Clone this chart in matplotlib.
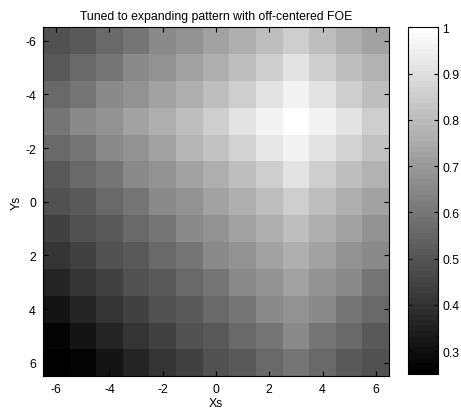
import numpy as np
import matplotlib
matplotlib.use("Agg")
import matplotlib.pyplot as plt

plt.rcParams.update({
    "font.family": "Liberation Sans", "font.size": 8.8,
    "axes.linewidth": 0.8, "axes.unicode_minus": False,
    "xtick.direction": "in", "ytick.direction": "in",
    "xtick.major.size": 3.5, "ytick.major.size": 3.5,
})

xs = [-6, -5, -4, -3, -2, -1, 0, 1, 2, 3, 4, 5, 6]
ys = [-6, -5, -4, -3, -2, -1, 0, 1, 2, 3, 4, 5, 6]

# response per (Ys row, Xs column)
resp = [
    [0.49, 0.51, 0.56, 0.60, 0.65, 0.68, 0.73, 0.76, 0.81, 0.85, 0.81, 0.76, 0.73],
    [0.51, 0.56, 0.60, 0.65, 0.68, 0.72, 0.76, 0.81, 0.85, 0.91, 0.85, 0.81, 0.77],
    [0.56, 0.60, 0.65, 0.68, 0.72, 0.76, 0.81, 0.85, 0.91, 0.96, 0.91, 0.85, 0.81],
    [0.60, 0.65, 0.68, 0.72, 0.76, 0.81, 0.85, 0.91, 0.96, 1.00, 0.96, 0.91, 0.85],
    [0.56, 0.60, 0.65, 0.68, 0.73, 0.78, 0.82, 0.87, 0.92, 0.96, 0.91, 0.87, 0.82],
    [0.51, 0.56, 0.60, 0.65, 0.68, 0.72, 0.76, 0.81, 0.85, 0.91, 0.85, 0.81, 0.77],
    [0.49, 0.51, 0.56, 0.60, 0.65, 0.68, 0.72, 0.76, 0.81, 0.85, 0.81, 0.76, 0.73],
    [0.44, 0.49, 0.51, 0.56, 0.60, 0.65, 0.68, 0.72, 0.76, 0.81, 0.76, 0.72, 0.68],
    [0.41, 0.44, 0.49, 0.51, 0.56, 0.60, 0.65, 0.68, 0.72, 0.76, 0.72, 0.68, 0.65],
    [0.36, 0.41, 0.44, 0.49, 0.51, 0.56, 0.60, 0.65, 0.68, 0.72, 0.68, 0.65, 0.60],
    [0.32, 0.36, 0.41, 0.44, 0.49, 0.51, 0.56, 0.60, 0.65, 0.68, 0.65, 0.60, 0.56],
    [0.265, 0.32, 0.36, 0.41, 0.44, 0.49, 0.51, 0.56, 0.60, 0.65, 0.60, 0.56, 0.51],
    [0.25, 0.265, 0.32, 0.36, 0.41, 0.44, 0.49, 0.51, 0.56, 0.60, 0.56, 0.51, 0.49],
]

ticks = [-6, -4, -2, 0, 2, 4, 6]
cbar_ticks = [0.3, 0.4, 0.5, 0.6, 0.7, 0.8, 0.9, 1.0]
cbar_labels = ["0.3", "0.4", "0.5", "0.6", "0.7", "0.8", "0.9", "1"]

fig = plt.figure(figsize=(4.61, 4.10), dpi=100)
ax = fig.add_axes([0.093, 0.080, 0.751, 0.851])
cax = fig.add_axes([0.885, 0.085, 0.065, 0.846])

cmap = plt.get_cmap("gray", 64)
im = ax.pcolormesh(np.array(xs + [7]) - 0.5, np.array(ys + [7]) - 0.5, np.array(resp),
                   cmap=cmap, vmin=0.25, vmax=1.0, shading="flat")
ax.set_xlim(-6.5, 6.5)
ax.set_ylim(6.5, -6.5)
ax.set_xticks(ticks)
ax.set_yticks(ticks)
ax.tick_params(top=True, right=True, pad=5)
ax.set_xlabel("Xs", labelpad=1)
ax.set_ylabel("Ys", labelpad=2)
ax.set_title("Tuned to expanding pattern with off-centered FOE", fontsize=8.8, pad=6)

cb = fig.colorbar(im, cax=cax)
cb.set_ticks(cbar_ticks)
cb.set_ticklabels(cbar_labels)
cax.tick_params(direction="in", left=True, right=True, length=3, pad=3)
cb.outline.set_linewidth(0.8)

fig.savefig("out.png", facecolor="white")
